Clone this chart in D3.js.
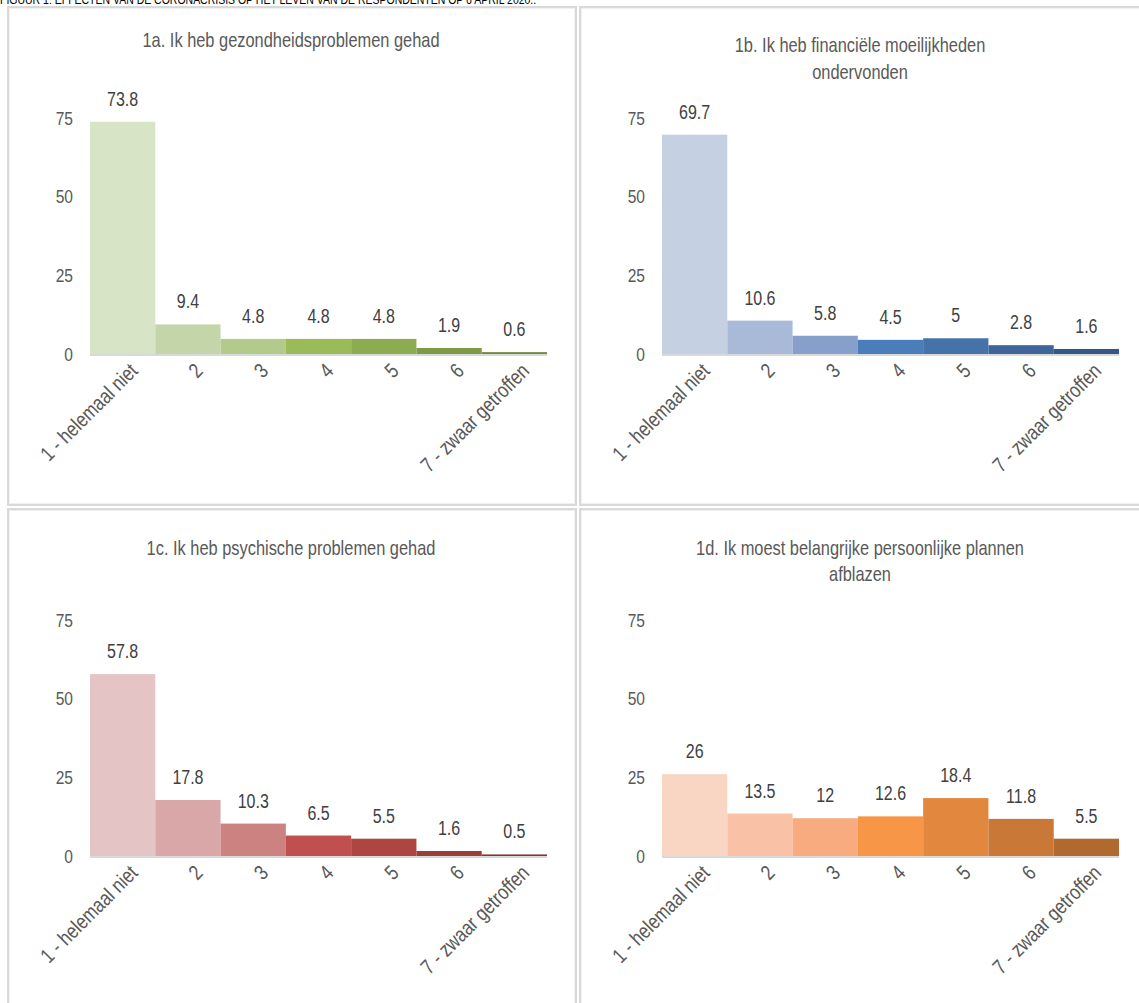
<!DOCTYPE html>
<html>
<head>
<meta charset="utf-8">
<script src="https://cdn.jsdelivr.net/npm/d3@7"></script>
<style>
  html, body { margin: 0; padding: 0; background: #fff; }
  svg { display: block; }
</style>
</head>
<body>
<svg id="chart"></svg>
<script>
// ── Data ────────────────────────────────────────────────────────────────────
const categories = ['1 - helemaal niet', '2', '3', '4', '5', '6', '7 - zwaar getroffen'];
const yTicks = [0, 25, 50, 75];

const figureTitle = 'FIGUUR 1: EFFECTEN VAN DE CORONACRISIS OP HET LEVEN VAN DE RESPONDENTEN OP 6 APRIL 2020..';

const titles = [
  ['1a. Ik heb gezondheidsproblemen gehad'],
  ['1b. Ik heb financiële moeilijkheden', 'ondervonden'],
  ['1c. Ik heb psychische problemen gehad'],
  ['1d. Ik moest belangrijke persoonlijke plannen', 'afblazen'],
];

const valuesA = [73.8, 9.4, 4.8, 4.8, 4.8, 1.9, 0.6];
const valuesB = [69.7, 10.6, 5.8, 4.5, 5, 2.8, 1.6];
const valuesC = [57.8, 17.8, 10.3, 6.5, 5.5, 1.6, 0.5];
const valuesD = [26, 13.5, 12, 12.6, 18.4, 11.8, 5.5];

// ── Colours (light → dark per panel) ────────────────────────────────────────
const greens  = ['#d8e4c6', '#c4d6a9', '#b2ca8b', '#9bbb59', '#8dab51', '#7d9a46', '#6f8b3c'];
const blues   = ['#c5d0e3', '#a9b9d8', '#86a0cb', '#4a7ebb', '#4672aa', '#3e6599', '#345688'];
const reds    = ['#e4c4c5', '#d9a7a8', '#cc8280', '#c0504d', '#ad4643', '#9a3e3b', '#853532'];
const oranges = ['#f9d5c3', '#f9c2a6', '#f7ab7f', '#f79646', '#e2883e', '#c97838', '#b06a30'];

// no narrow face installed: squeeze Liberation Sans horizontally instead
const FONT = '"Liberation Sans", Arial, sans-serif';
const SQ = 0.82;
const W = 1139, H = 1003;

const panels = [
  { x: 8,   y: 7,   w: 568, h: 498, title: titles[0], values: valuesA, colors: greens,  titleY: [33] },
  { x: 580, y: 7,   w: 562, h: 498, title: titles[1], values: valuesB, colors: blues,   titleY: [38, 65] },
  { x: 8,   y: 509, w: 568, h: 498, title: titles[2], values: valuesC, colors: reds,    titleY: [39] },
  { x: 580, y: 509, w: 562, h: 498, title: titles[3], values: valuesD, colors: oranges, titleY: [39, 65] },
];

const svg = d3.select('#chart').attr('width', W).attr('height', H);

// figure caption, clipped by the top of the page
svg.append('text')
  .attr('transform', `translate(0,4) scale(${SQ},1)`)
  .attr('font-family', FONT).attr('font-size', '12.8px')
  .attr('fill', '#000')
  .text(figureTitle);

panels.forEach(p => {
  const g = svg.append('g').attr('transform', `translate(${p.x},${p.y})`);

  // panel border (double light line)
  g.append('rect')
    .attr('x', 0).attr('y', 0).attr('width', p.w).attr('height', p.h)
    .attr('fill', '#fff').attr('stroke', '#d9d9d9').attr('stroke-width', 2);
  g.append('rect')
    .attr('x', 1.5).attr('y', 1.5).attr('width', p.w - 3).attr('height', p.h - 3)
    .attr('fill', 'none').attr('stroke', '#f0f0f0').attr('stroke-width', 1);

  // title
  g.append('g').selectAll('text')
    .data(p.title)
    .join('text')
      .attr('transform', (d, i) => `translate(${p.w / 2 - 1},${p.titleY[i]}) scale(0.8,1)`)
      .attr('dominant-baseline', 'central')
      .attr('text-anchor', 'middle')
      .attr('font-family', FONT).attr('font-size', '20.5px')
      .attr('fill', '#595959')
      .text(d => d);

  const x = d3.scaleBand()
    .domain(categories)
    .range([82, 539])
    .padding(0);

  const y = d3.scaleLinear()
    .domain([0, 75])
    .range([347, 111]);

  // y tick labels (no axis line)
  const yAxis = g.append('g')
    .attr('transform', `translate(${x.range()[0]},0)`)
    .call(d3.axisLeft(y).tickValues(yTicks).tickSize(0).tickPadding(0));
  yAxis.select('.domain').remove();
  yAxis.selectAll('text')
    .attr('x', null)
    .attr('transform', `translate(-17,0) scale(${SQ},1)`)
    .attr('font-family', FONT).attr('font-size', '19px')
    .attr('fill', '#595959');

  // bars
  g.append('g').selectAll('rect')
    .data(p.values)
    .join('rect')
      .attr('x', (d, i) => x(categories[i]))
      .attr('y', d => y(d))
      .attr('width', x.bandwidth())
      .attr('height', d => y(0) - y(d))
      .attr('fill', (d, i) => p.colors[i]);

  // baseline
  g.append('line')
    .attr('x1', x.range()[0]).attr('x2', x.range()[1])
    .attr('y1', y(0) + 1).attr('y2', y(0) + 1)
    .attr('stroke', '#d9d9d9').attr('stroke-width', 2);

  // value labels
  g.append('g').selectAll('text')
    .data(p.values)
    .join('text')
      .attr('transform', (d, i) =>
        `translate(${x(categories[i]) + x.bandwidth() / 2},${y(d) - 16}) scale(${SQ},1)`)
      .attr('text-anchor', 'middle')
      .attr('font-family', FONT).attr('font-size', '19.5px')
      .attr('fill', '#404040')
      .text(d => d);

  // category labels, rotated
  const xAxis = g.append('g')
    .attr('transform', `translate(0,${y(0)})`)
    .call(d3.axisBottom(x).tickSize(0).tickPadding(0));
  xAxis.select('.domain').remove();
  xAxis.selectAll('text')
    .attr('y', null)
    .attr('font-family', FONT).attr('font-size', '21px')
    .attr('fill', '#595959')
    .attr('text-anchor', 'end')
    .attr('dy', '0.35em')
    .attr('transform', `translate(11,13) rotate(-45) scale(${SQ},1)`);
});
</script>
</body>
</html>
